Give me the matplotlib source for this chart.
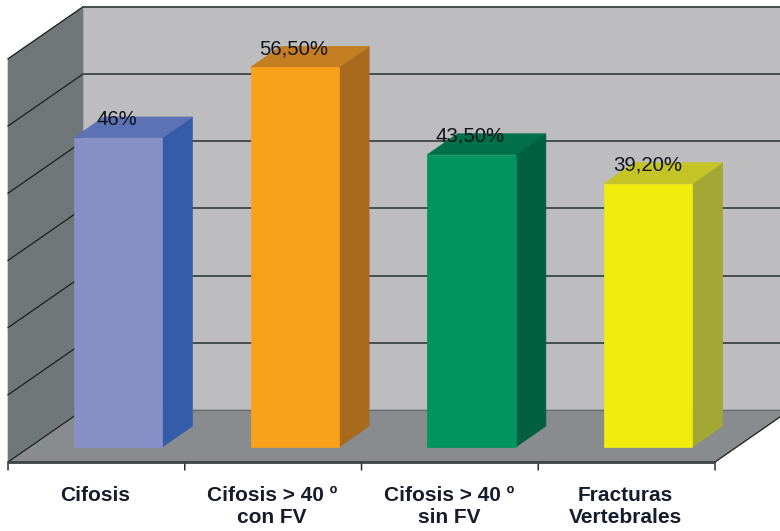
import matplotlib
matplotlib.use('Agg')
import matplotlib.pyplot as plt
from matplotlib.patches import Polygon

categories = ['Cifosis', 'Cifosis > 40 º\ncon FV', 'Cifosis > 40 º\nsin FV', 'Fracturas\nVertebrales']
values = [46, 56.5, 43.5, 39.2]
value_labels = ['46%', '56,50%', '43,50%', '39,20%']
grid_ticks = [0, 10, 20, 30, 40, 50, 60]

front_colors = ['#868fc6', '#f9a11b', '#009460', '#f2ec0e']
top_colors = ['#5d71b5', '#c47d20', '#00704a', '#c4c426']
side_colors = ['#345ca8', '#a86a1c', '#005f3f', '#a3a733']

# pixels per category and per value unit
cat_px = 176.75
val_px = 6.72
# oblique shift of the full depth of the box
depth_dx = 75
depth_dy = 52
bar_width = 0.5
bar_d0 = 0.2885
bar_d1 = 0.69


def proj(x, y, d=0.0):
    return (x + d * depth_dx / cat_px, y + d * depth_dy / val_px)


def face(ax, pts, color, z=1):
    ax.add_patch(Polygon(pts, closed=True, facecolor=color, edgecolor=color, linewidth=0.5, zorder=z))


fig = plt.figure(figsize=(7.8, 5.31), dpi=100)
ax = fig.add_axes([0, 0, 1, 1])
ax.set_xlim((0 - 96.4) / cat_px, (780 - 96.4) / cat_px)
ax.set_ylim((462 - 531) / val_px, 462 / val_px)
ax.axis('off')

x0, x1 = -0.5, len(categories) - 0.5
top = grid_ticks[-1]

# back wall, left wall, floor
face(ax, [proj(x0, 0, 1), proj(x1, 0, 1), proj(x1, top, 1), proj(x0, top, 1)], '#bdbcbf')
face(ax, [proj(x0, 0), proj(x0, 0, 1), proj(x0, top, 1), proj(x0, top)], '#6f7778')
face(ax, [proj(x0, 0), proj(x1, 0), proj(x1, 0, 1), proj(x0, 0, 1)], '#888c8e')

# gridlines run along the left wall and across the back wall
for t in grid_ticks:
    a = proj(x0, t)
    b = proj(x0, t, 1)
    c = proj(x1, t, 1)
    back_lw = 1.4 if t > 0 else 1.0
    back_col = '#454d4d' if t > 0 else '#6a7072'
    ax.plot([a[0], b[0]], [a[1], b[1]], color='#1c2020', lw=0.9, zorder=2)
    ax.plot([b[0], c[0]], [b[1], c[1]], color=back_col, lw=back_lw, zorder=2)

# right edge of the floor
a = proj(x1, 0)
b = proj(x1, 0, 1)
ax.plot([a[0], b[0]], [a[1], b[1]], color='#1c2020', lw=0.9, zorder=2)

# bars
for i, v in enumerate(values):
    l = i - bar_width / 2
    r = i + bar_width / 2
    face(ax, [proj(r, 0, bar_d0), proj(r, 0, bar_d1), proj(r, v, bar_d1), proj(r, v, bar_d0)], side_colors[i], 3)
    face(ax, [proj(l, v, bar_d0), proj(r, v, bar_d0), proj(r, v, bar_d1), proj(l, v, bar_d1)], top_colors[i], 3)
    face(ax, [proj(l, 0, bar_d0), proj(r, 0, bar_d0), proj(r, v, bar_d0), proj(l, v, bar_d0)], front_colors[i], 4)
    lx, ly = proj(i, v, bar_d0)
    ax.annotate(value_labels[i], (lx, ly), xytext=(-1, 18.5), textcoords='offset pixels',
                ha='center', va='center', fontsize=14.7, family='Liberation Sans',
                color='#10141a', zorder=6)

# category axis with ticks between the groups
ax.plot([x0, x1], [0, 0], color='#3c4444', lw=2.0, zorder=5, solid_capstyle='butt')
for i in range(len(categories) + 1):
    ax.annotate('', (i - 0.5, 0), xytext=(i - 0.5, -8 / val_px),
                arrowprops=dict(arrowstyle='-', color='#2a3030', lw=1.1, shrinkA=0, shrinkB=0))
for i, c in enumerate(categories):
    ax.annotate(c, (i, 0), xytext=(-1, -24), textcoords='offset pixels', ha='center', va='top',
                fontsize=15, fontweight='bold', family='Liberation Sans', color='#161c2c',
                linespacing=1.2)

fig.savefig('out.png', dpi=100)
